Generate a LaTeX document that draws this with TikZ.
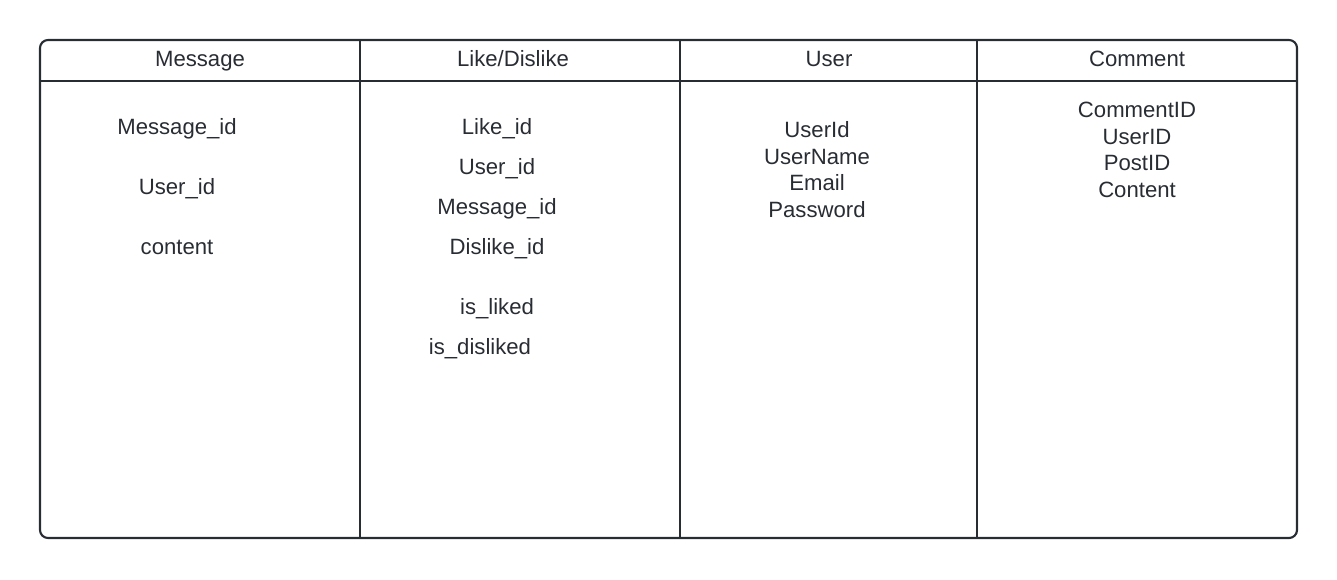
\documentclass[tikz,border=0pt]{standalone}
\usepackage{fontspec}
\setmainfont{Liberation Sans}
\definecolor{ink}{HTML}{282C33}
\begin{document}
\begin{tikzpicture}[x=0.75pt,y=-0.75pt,
  lbl/.style={text=ink,font=\fontsize{16.6}{19}\selectfont,inner sep=0pt,anchor=base,yshift=-6pt},
  frame/.style={draw=ink,line width=1.6pt}]
\useasboundingbox (0,0) rectangle (1337,579);
\draw[frame,rounded corners=6pt] (40,40) rectangle (1297,538);
\draw[frame] (40,81) -- (1297,81);
\draw[frame] (360,40) -- (360,538);
\draw[frame] (680,40) -- (680,538);
\draw[frame] (977,40) -- (977,538);
% headers
\node[lbl] (h1) at (200,58) {Message};
\node[lbl] (h2) at (513,58) {Like/Dislike};
\node[lbl] (h3) at (829,58) {User};
\node[lbl] (h4) at (1137,58) {Comment};
% Message
\node[lbl] (m1) at (177,126) {Message\_id};
\node[lbl] (m2) at (177,186) {User\_id};
\node[lbl] (m3) at (177,246) {content};
% Like/Dislike
\node[lbl] (l1) at (497,126) {Like\_id};
\node[lbl] (l2) at (497,166) {User\_id};
\node[lbl] (l3) at (497,206) {Message\_id};
\node[lbl] (l4) at (497,246) {Dislike\_id};
\node[lbl] (l5) at (497,306) {is\_liked};
\node[lbl] (l6) at (480,346) {is\_disliked};
% User
\node[lbl] (u1) at (817,129) {UserId};
\node[lbl] (u2) at (817,156) {UserName};
\node[lbl] (u3) at (817,182) {Email};
\node[lbl] (u4) at (817,209) {Password};
% Comment
\node[lbl] (c1) at (1137,109) {CommentID};
\node[lbl] (c2) at (1137,136) {UserID};
\node[lbl] (c3) at (1137,162) {PostID};
\node[lbl] (c4) at (1137,189) {Content};
\end{tikzpicture}
\end{document}
